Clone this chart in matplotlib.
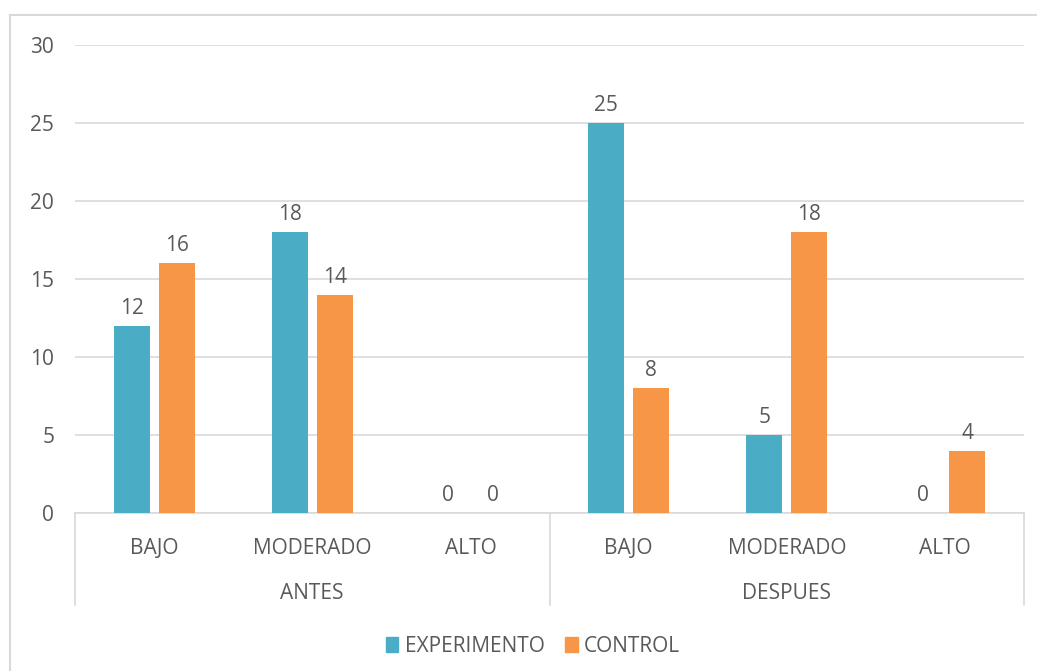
import matplotlib
matplotlib.use("Agg")
import matplotlib.pyplot as plt
import numpy as np
from matplotlib.patches import Patch
from matplotlib.lines import Line2D
from matplotlib.transforms import blended_transform_factory

# data
periods = ["ANTES", "DESPUES"]
levels = ["BAJO", "MODERADO", "ALTO"]
experimento = [12, 18, 0, 25, 5, 0]
control = [16, 14, 0, 8, 18, 4]

TEAL = "#4BACC6"
ORANGE = "#F79646"
TEXT = "#595959"
GRID = "#D9D9D9"
FS = 15

plt.rcParams["font.family"] = ["Open Sans", "DejaVu Sans"]

fig = plt.figure(figsize=(10.37, 6.71), dpi=100)
ax = fig.add_axes([75 / 1037, 1 - 513 / 671, (1024 - 75) / 1037, (513 - 45) / 671])

x = np.arange(len(experimento))
w = 0.228
off = 0.142
b1 = ax.bar(x - off, experimento, w, color=TEAL, zorder=3)
b2 = ax.bar(x + off, control, w, color=ORANGE, zorder=3)

for bars, vals in [(b1, experimento), (b2, control)]:
    for r, v in zip(bars, vals):
        ax.annotate(str(v), (r.get_x() + r.get_width() / 2, v), xytext=(0, 5),
                    textcoords="offset points", ha="center", va="bottom",
                    fontsize=FS, color=TEXT)

ax.set_xlim(-0.5, len(x) - 0.5)
ax.set_ylim(0, 30)
ax.set_yticks(range(0, 31, 5))
ax.yaxis.grid(True, color=GRID, linewidth=1.2, zorder=0)
ax.tick_params(axis="y", length=0, pad=15, labelsize=FS, labelcolor=TEXT)

for s in ["top", "right", "left"]:
    ax.spines[s].set_visible(False)
ax.spines["bottom"].set_color(GRID)
ax.spines["bottom"].set_linewidth(1.2)

ax.set_xticks(x)
ax.set_xticklabels(levels * len(periods))
ax.tick_params(axis="x", length=0, pad=18, labelsize=FS, labelcolor=TEXT)

# second level of the category axis
tr = blended_transform_factory(ax.transData, ax.transAxes)
for i, p in enumerate(periods):
    ax.text(i * 3 + 1, -0.172, p, transform=tr, ha="center", va="center",
            fontsize=FS, color=TEXT)
for xs in [-0.5, 2.5, 5.5]:
    ax.add_line(Line2D([xs, xs], [0, -0.197], transform=tr, color=GRID,
                       linewidth=1.2, clip_on=False))

# chart border
fig.add_artist(Line2D([10 / 1037, 1], [1 - 15 / 671] * 2, color=GRID, linewidth=1.5))
fig.add_artist(Line2D([10 / 1037] * 2, [0, 1 - 15 / 671], color=GRID, linewidth=1.5))

handles = [Patch(color=TEAL, label="EXPERIMENTO"), Patch(color=ORANGE, label="CONTROL")]
fig.legend(handles=handles, loc="center", bbox_to_anchor=(0.514, 1 - 646 / 671), ncol=2,
           frameon=False, fontsize=FS, labelcolor=TEXT, handlelength=0.6,
           handleheight=0.7, handletextpad=0.3, columnspacing=1.0)

fig.savefig("out.png", dpi=100)
